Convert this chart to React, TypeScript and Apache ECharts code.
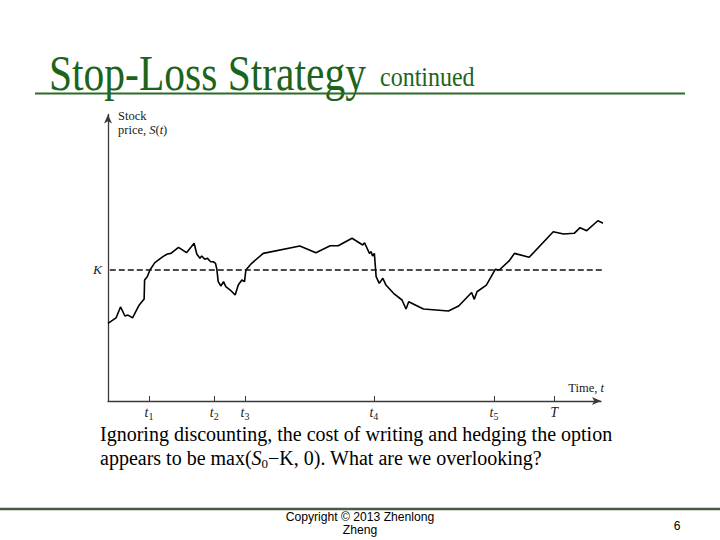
import React, { useEffect, useRef } from 'react';
import * as echarts from 'echarts';

// Time (T = 100) and stock price (K = 100)
const times = [
  0, 1.8, 2.8, 3.8, 4.5, 5.5, 7.0, 8.1, 8.2, 8.8,
  9.4, 10.5, 12.3, 13.3, 14.1, 15.8, 17.6, 19.3, 19.9, 20.6,
  21.0, 21.7, 22.3, 23.0, 23.6, 24.1, 24.4, 24.7, 25.3, 25.9,
  26.4, 27.4, 28.5, 29.2, 30.0, 30.6, 30.9, 32.2, 34.8, 43.0,
  46.6, 49.8, 51.6, 54.7, 57.1, 57.5, 58.6, 59.0, 59.3, 59.7,
  60.1, 60.8, 61.6, 62.3, 64.0, 65.9, 66.8, 67.4, 70.7, 76.3,
  78.6, 81.5, 82.1, 82.7, 84.8, 86.8, 87.7, 89.9, 91.1, 94.4,
  99.8, 102.1, 104.5, 105.8, 107.3, 109.8, 111.1, 112.6, 113.7,
];
const prices = [
  59.3, 63.4, 71.8, 64.9, 65.6, 63.4, 73.3, 77.9, 92.4, 94.9,
  100, 105.6, 110.2, 112.2, 112.7, 117.3, 113.2, 120.4, 112.2, 108.9,
  110.7, 108.2, 108.9, 106.3, 106.3, 105.1, 100.5, 91.1, 87.8, 91.1,
  87.3, 84.7, 80.9, 88.5, 92.4, 91.1, 100, 105.1, 112.7, 118.3,
  113.2, 118.5, 118.5, 124.2, 119.1, 120.8, 112.7, 114.0, 110.7, 112.7,
  94.9, 89.8, 93.7, 88.5, 82.2, 77.1, 70.2, 75.8, 70.2, 68.7,
  72.5, 82.8, 77.6, 83.4, 88.5, 100.5, 100, 106.9, 112.7, 109.7,
  129.2, 127.5, 128.0, 132.3, 130.0, 137.6, 135.6, 137.4, 140.2,
];
const strike = 100;
const strikeLabel = 'K';
const tickTimes = [9.2, 23.8, 30.7, 59.6, 86.5, 100];
const tickNames = ['t', 't', 't', 't', 't', 'T'];
const tickSubs = ['1', '2', '3', '4', '5', ''];
const timeMin = 0;
const timeMax = 110.5;
const priceMin = 0;
const priceMax = 218.7;
const strikeLineStart = 0.4;
const strikeLineEnd = 111.1;

const SERIF = '"Liberation Serif", "DejaVu Serif", serif';
const SANS = '"Liberation Sans Narrow", "Liberation Sans", Arial, sans-serif';

export default function App() {
  const ref = useRef<HTMLDivElement>(null);
  useEffect(() => {
    if (!ref.current) return;
    const chart = echarts.init(ref.current, null, { renderer: 'svg' });
    const pathData = times.map((t, i) => [t, prices[i]]);
    chart.setOption({
      animation: false,
      backgroundColor: '#ffffff',
      grid: { left: 108, right: 119, top: 114.5, bottom: 139 },
      xAxis: {
        type: 'value',
        min: timeMin,
        max: timeMax,
        splitLine: { show: false },
        axisLine: {
          show: true,
          symbol: ['none', 'arrow'],
          symbolSize: [6, 9],
          lineStyle: { color: '#3a3a3a', width: 1.3 },
        },
        axisTick: {
          show: true,
          inside: true,
          length: 5,
          customValues: tickTimes,
          lineStyle: { color: '#3a3a3a', width: 1 },
        },
        axisLabel: {
          customValues: tickTimes,
          margin: 3,
          formatter: (v: number) => {
            const i = tickTimes.findIndex((x) => Math.abs(x - v) < 1e-6);
            if (i < 0) return '';
            return tickSubs[i] ? `{i|${tickNames[i]}}{s|${tickSubs[i]}}` : `{i|${tickNames[i]}}`;
          },
          rich: {
            i: { fontFamily: SERIF, fontStyle: 'italic', fontSize: 14, lineHeight: 17, color: '#222' },
            s: { fontFamily: SERIF, fontSize: 10, verticalAlign: 'bottom', color: '#222' },
          },
        },
      },
      yAxis: {
        type: 'value',
        min: priceMin,
        max: priceMax,
        splitLine: { show: false },
        axisLine: {
          show: true,
          symbol: ['none', 'arrow'],
          symbolSize: [6, 9],
          lineStyle: { color: '#3a3a3a', width: 1.3 },
        },
        axisTick: { show: false },
        axisLabel: {
          customValues: [strike],
          margin: 6,
          formatter: () => strikeLabel,
          fontFamily: SERIF,
          fontStyle: 'italic',
          fontSize: 13.5,
          color: '#222',
        },
      },
      series: [
        {
          type: 'line',
          data: pathData,
          symbol: 'none',
          clip: false,
          lineStyle: { color: '#000', width: 1.6 },
        },
        {
          type: 'line',
          data: [[strikeLineStart, strike], [strikeLineEnd, strike]],
          symbol: 'none',
          clip: false,
          lineStyle: { color: '#111', width: 1.4, type: [6, 3] },
        },
      ],
      graphic: [
        {
          type: 'text', x: 49, y: 73, scaleY: 1.2,
          style: { text: 'Stop-Loss Strategy', fontSize: 41.5, fontFamily: SERIF, fill: '#1c641c', textVerticalAlign: 'middle' },
        },
        {
          type: 'text', x: 380, y: 77, scaleY: 1.17,
          style: { text: 'continued', fontSize: 24, fontFamily: SERIF, fill: '#1c641c', textVerticalAlign: 'middle' },
        },
        {
          type: 'line',
          shape: { x1: 35, y1: 93.5, x2: 685, y2: 93.5 },
          style: { stroke: '#2a6a2a', lineWidth: 2 },
        },
        {
          type: 'text', x: 118, y: 109,
          style: {
            text: '{n|Stock}\n{n|price, }{i|S}{n|(}{i|t}{n|)}',
            textVerticalAlign: 'top',
            rich: {
              n: { fontFamily: SERIF, fontSize: 12.5, lineHeight: 14, fill: '#1a1a1a' },
              i: { fontFamily: SERIF, fontSize: 12.5, lineHeight: 14, fontStyle: 'italic', fill: '#1a1a1a' },
            },
          },
        },
        {
          type: 'text', x: 604, y: 388,
          style: {
            text: '{n|Time, }{i|t}',
            textAlign: 'right',
            textVerticalAlign: 'middle',
            rich: {
              n: { fontFamily: SERIF, fontSize: 12.5, fill: '#1a1a1a' },
              i: { fontFamily: SERIF, fontSize: 12.5, fontStyle: 'italic', fill: '#1a1a1a' },
            },
          },
        },
        {
          type: 'text', x: 100, y: 434,
          style: {
            text: 'Ignoring discounting, the cost of writing and hedging the option',
            fontSize: 20, fontFamily: SERIF, fill: '#000', textVerticalAlign: 'middle',
          },
        },
        {
          type: 'text', x: 100, y: 458,
          style: {
            text: '{n|appears to be max(}{i|S}{s|0}{n|\u2212K, 0). What are we overlooking?}',
            textVerticalAlign: 'middle',
            rich: {
              n: { fontFamily: SERIF, fontSize: 20, lineHeight: 24, fill: '#000' },
              i: { fontFamily: SERIF, fontSize: 20, lineHeight: 24, fontStyle: 'italic', fill: '#000' },
              s: { fontFamily: SERIF, fontSize: 13, verticalAlign: 'bottom', fill: '#000' },
            },
          },
        },
        {
          type: 'line',
          shape: { x1: 0, y1: 509, x2: 720, y2: 509 },
          style: { stroke: '#4a5a45', lineWidth: 2.5 },
        },
        {
          type: 'text', x: 360, y: 522.5, scaleX: 0.9,
          style: {
            text: 'Copyright \u00a9 2013 Zhenlong\nZheng',
            fontSize: 13.5, lineHeight: 13, fontFamily: SANS, fill: '#000',
            textAlign: 'center', textVerticalAlign: 'middle',
          },
        },
        {
          type: 'text', x: 677, y: 525, scaleX: 0.9,
          style: { text: '6', fontSize: 13.5, fontFamily: SANS, fill: '#000', textAlign: 'center', textVerticalAlign: 'middle' },
        },
      ],
    });
    return () => chart.dispose();
  }, []);
  return (
    <div
      ref={ref}
      style={{ position: 'absolute', left: 0, top: 0, width: 720, height: 540, background: '#fff' }}
    />
  );
}
